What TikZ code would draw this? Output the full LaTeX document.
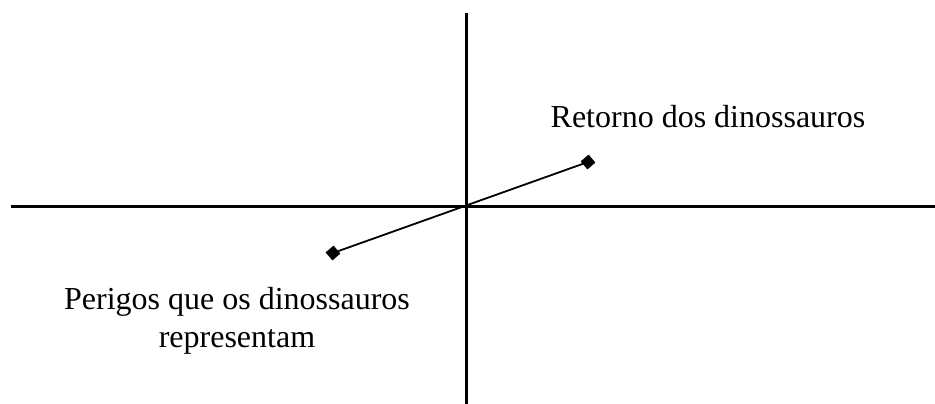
\documentclass[tikz,border=0pt]{standalone}
\usepackage{fontspec}
\setmainfont{Liberation Serif}

\begin{document}
\begin{tikzpicture}[
  x=1pt, y=-1pt,
  font=\fontsize{32}{38}\selectfont,
  axis/.style={line width=3pt},
  endpt/.style={draw, fill=black, rectangle, minimum size=10pt, inner sep=0pt,
                rotate=40},
  link/.style={line width=1.8pt},
  label/.style={align=center, inner sep=0pt, anchor=base}
]
  \useasboundingbox (0,0) rectangle (935,404);
  % axes
  \coordinate (west) at (11,206);
  \coordinate (east) at (935,206);
  \coordinate (north) at (466,13);
  \coordinate (south) at (466,404);
  \draw[axis] (west) -- (east);
  \draw[axis] (north) -- (south);
  % the two end points and the line through the origin
  \node[endpt] (danger) at (333,253) {};
  \node[endpt] (comeback) at (588,162) {};
  \draw[link] (danger) -- (comeback);
  % labels
  \node[label] (comebacktext) at (708,128) {Retorno dos dinossauros};
  \node[label] (dangertext) at (237,347) {Perigos que os dinossauros\\representam};
\end{tikzpicture}
\end{document}
